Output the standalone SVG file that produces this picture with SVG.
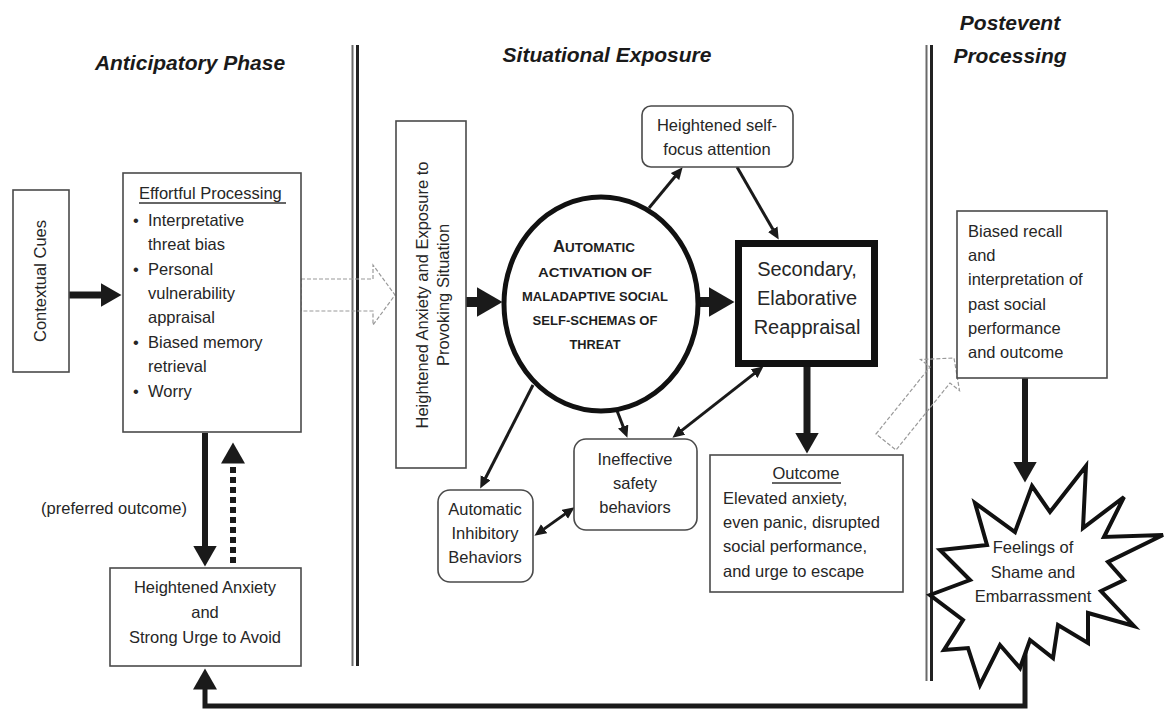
<svg xmlns="http://www.w3.org/2000/svg" width="1165" height="711" viewBox="0 0 1165 711">
<style>
text{font-family:"Liberation Sans",Arial,sans-serif;fill:#262626;font-size:16.5px}
.title{font-weight:bold;font-style:italic;font-size:21px;fill:#1a1a1a}
.box{fill:#fff;stroke:#4a4a4a;stroke-width:1.6}
.c{text-anchor:middle}
.big{font-size:20px}
.cap{font-weight:bold;font-size:13px;text-anchor:middle;fill:#1e1e1e}
.thin{stroke:#1a1a1a;stroke-width:3;fill:none}
.thick{stroke:#1a1a1a;fill:none}
.hollow{fill:none;stroke:#9a9a9a;stroke-width:1.2;stroke-dasharray:4 2}
.ul{stroke:#333;stroke-width:1.3}
</style>
<defs>
<marker id="mThin" markerUnits="userSpaceOnUse" markerWidth="13" markerHeight="12" refX="0.5" refY="5.5" orient="auto-start-reverse"><path d="M0,0 L12,5.5 L0,11 z" fill="#1a1a1a"/></marker>
<marker id="mMed" markerUnits="userSpaceOnUse" markerWidth="23" markerHeight="24" refX="0.5" refY="12" orient="auto"><path d="M0,0 L21,12 L0,24 z" fill="#1a1a1a"/></marker>
<marker id="mBig" markerUnits="userSpaceOnUse" markerWidth="28" markerHeight="30" refX="0.5" refY="15" orient="auto"><path d="M0,0 L26,15 L0,30 z" fill="#1a1a1a"/></marker>
</defs>
<rect width="1165" height="711" fill="#fff"/>

<g id="titles">
<text class="title" x="190" y="70" text-anchor="middle">Anticipatory Phase</text>
<text class="title" x="607" y="62" text-anchor="middle">Situational Exposure</text>
<text class="title" x="1010" y="30" text-anchor="middle">Postevent</text>
<text class="title" x="1010" y="63" text-anchor="middle">Processing</text>
</g>

<g id="dividers">
<line x1="352.5" y1="45" x2="352.5" y2="666" stroke="#6a6a6a" stroke-width="2"/>
<line x1="357.5" y1="45" x2="357.5" y2="666" stroke="#222" stroke-width="3"/>
<line x1="926.5" y1="45" x2="926.5" y2="681" stroke="#6a6a6a" stroke-width="2"/>
<line x1="931.5" y1="45" x2="931.5" y2="681" stroke="#222" stroke-width="3"/>
</g>

<g id="connectors">
<polygon class="hollow" points="301,279 373,279 373,265 395,295 373,325 373,311 301,311"/>
<polygon class="hollow" points="876,434 930,367 920.5,359.5 954,358 959.5,390.5 950,383 896,450"/>
<line class="thick" x1="69" y1="295" x2="101" y2="295" stroke-width="7" marker-end="url(#mMed)"/>
<line class="thick" x1="205" y1="433" x2="205" y2="546" stroke-width="6" marker-end="url(#mMed)"/>
<line class="thick" x1="233" y1="563" x2="233" y2="463" stroke-width="6" stroke-dasharray="6 4" marker-end="url(#mMed)"/>
<path class="thick" d="M1025,640 L1025,706 L205,706 L205,689" stroke-width="5" stroke-linejoin="miter" marker-end="url(#mMed)"/>
<line class="thick" x1="466" y1="302" x2="477" y2="302" stroke-width="10" marker-end="url(#mBig)"/>
<line class="thick" x1="698" y1="302" x2="709" y2="302" stroke-width="10" marker-end="url(#mBig)"/>
<line class="thick" x1="807" y1="367" x2="807" y2="433" stroke-width="7" marker-end="url(#mMed)"/>
<line class="thick" x1="1025" y1="378" x2="1025" y2="462" stroke-width="6" marker-end="url(#mMed)"/>
<line class="thin" x1="649" y1="208" x2="675.3" y2="176.2" marker-end="url(#mThin)"/>
<line class="thin" x1="737" y1="167" x2="773" y2="229.6" marker-end="url(#mThin)"/>
<line class="thin" x1="533" y1="385" x2="485.4" y2="478.3" marker-end="url(#mThin)"/>
<line class="thin" x1="616" y1="408" x2="623.3" y2="427" marker-end="url(#mThin)"/>
<line class="thin" x1="681.5" y1="430.6" x2="754.5" y2="373.4" marker-start="url(#mThin)" marker-end="url(#mThin)"/>
<line class="thin" x1="543.8" y1="529.1" x2="565.2" y2="513.9" marker-start="url(#mThin)" marker-end="url(#mThin)"/>
</g>

<g id="contextual-cues">
<rect class="box" x="13" y="190" width="56" height="182"/>
<text class="c" transform="translate(46,281) rotate(-90)">Contextual Cues</text>
</g>

<g id="effortful-processing">
<rect class="box" x="123" y="173" width="178" height="259"/>
<text x="139" y="199">Effortful Processing</text>
<line class="ul" x1="139" y1="203" x2="286" y2="203"/>
<text x="133" y="226">•</text><text x="148" y="226">Interpretative</text>
<text x="148" y="250">threat bias</text>
<text x="133" y="275">•</text><text x="148" y="275">Personal</text>
<text x="148" y="299">vulnerability</text>
<text x="148" y="323">appraisal</text>
<text x="133" y="348">•</text><text x="148" y="348">Biased memory</text>
<text x="148" y="372">retrieval</text>
<text x="133" y="397">•</text><text x="148" y="397">Worry</text>
</g>

<g id="preferred-outcome-label">
<text x="114" y="514" class="c">(preferred outcome)</text>
</g>

<g id="heightened-anxiety-avoid">
<rect class="box" x="110" y="568" width="191" height="98"/>
<text class="c" x="205" y="593">Heightened Anxiety</text>
<text class="c" x="205" y="618">and</text>
<text class="c" x="205" y="643">Strong Urge to Avoid</text>
</g>

<g id="exposure-situation">
<rect class="box" x="396" y="121" width="70" height="347"/>
<text class="c" transform="translate(428,295) rotate(-90)">Heightened Anxiety and Exposure to</text>
<text class="c" transform="translate(449,295) rotate(-90)">Provoking Situation</text>
</g>

<g id="schema-activation">
<ellipse cx="601" cy="304" rx="97" ry="107" fill="#fff" stroke="#111" stroke-width="5"/>
<text class="cap" x="594" y="252" textLength="82" lengthAdjust="spacingAndGlyphs"><tspan font-size="16">A</tspan>UTOMATIC</text>
<text class="cap" x="595" y="277" textLength="114" lengthAdjust="spacingAndGlyphs">ACTIVATION OF</text>
<text class="cap" x="595" y="301" textLength="146" lengthAdjust="spacingAndGlyphs">MALADAPTIVE SOCIAL</text>
<text class="cap" x="595" y="325" textLength="125" lengthAdjust="spacingAndGlyphs">SELF-SCHEMAS OF</text>
<text class="cap" x="595" y="349" textLength="51" lengthAdjust="spacingAndGlyphs">THREAT</text>
</g>

<g id="self-focus-attention">
<rect class="box" x="642" y="106" width="151" height="61" rx="9"/>
<text class="c" x="717" y="131">Heightened self-</text>
<text class="c" x="717" y="155">focus attention</text>
</g>

<g id="secondary-reappraisal">
<rect x="738.5" y="243.5" width="136" height="120" fill="#fff" stroke="#111" stroke-width="7"/>
<text class="c big" x="807" y="276">Secondary,</text>
<text class="c big" x="807" y="305">Elaborative</text>
<text class="c big" x="807" y="334">Reappraisal</text>
</g>

<g id="automatic-inhibitory">
<rect class="box" x="438" y="490" width="95" height="92" rx="12"/>
<text class="c" x="485" y="515">Automatic</text>
<text class="c" x="485" y="539">Inhibitory</text>
<text class="c" x="485" y="563">Behaviors</text>
</g>

<g id="ineffective-safety">
<rect class="box" x="574" y="439" width="123" height="91" rx="12"/>
<text class="c" x="635" y="465">Ineffective</text>
<text class="c" x="635" y="489">safety</text>
<text class="c" x="635" y="513">behaviors</text>
</g>

<g id="outcome">
<rect class="box" x="710" y="455" width="193" height="137"/>
<text class="c" x="806" y="479">Outcome</text>
<line class="ul" x1="772" y1="483" x2="841" y2="483"/>
<text x="723" y="504">Elevated anxiety,</text>
<text x="723" y="528">even panic, disrupted</text>
<text x="723" y="552">social performance,</text>
<text x="723" y="577">and urge to escape</text>
</g>

<g id="biased-recall">
<rect class="box" x="957" y="211" width="150" height="167"/>
<text x="968" y="237">Biased recall</text>
<text x="968" y="261">and</text>
<text x="968" y="285">interpretation of</text>
<text x="968" y="310">past social</text>
<text x="968" y="334">performance</text>
<text x="968" y="358">and outcome</text>
</g>

<g id="shame-embarrassment">
<polygon points="1032,486 1050,512 1086,466 1083,528 1124,497 1104,537 1163,535 1108,562 1124,580 1101,591 1134,626 1088,613 1088,643 1058,625 1053,658 1030,640 1020,668 1000,645 980,685 968,648 944,650 963,620 930,595 970,580 940,550 987,545 975,503 1015,532" fill="#fff" stroke="#111" stroke-width="4" stroke-linejoin="miter"/>
<text class="c" x="1033" y="553">Feelings of</text>
<text class="c" x="1033" y="578">Shame and</text>
<text class="c" x="1033" y="602">Embarrassment</text>
</g>
</svg>
